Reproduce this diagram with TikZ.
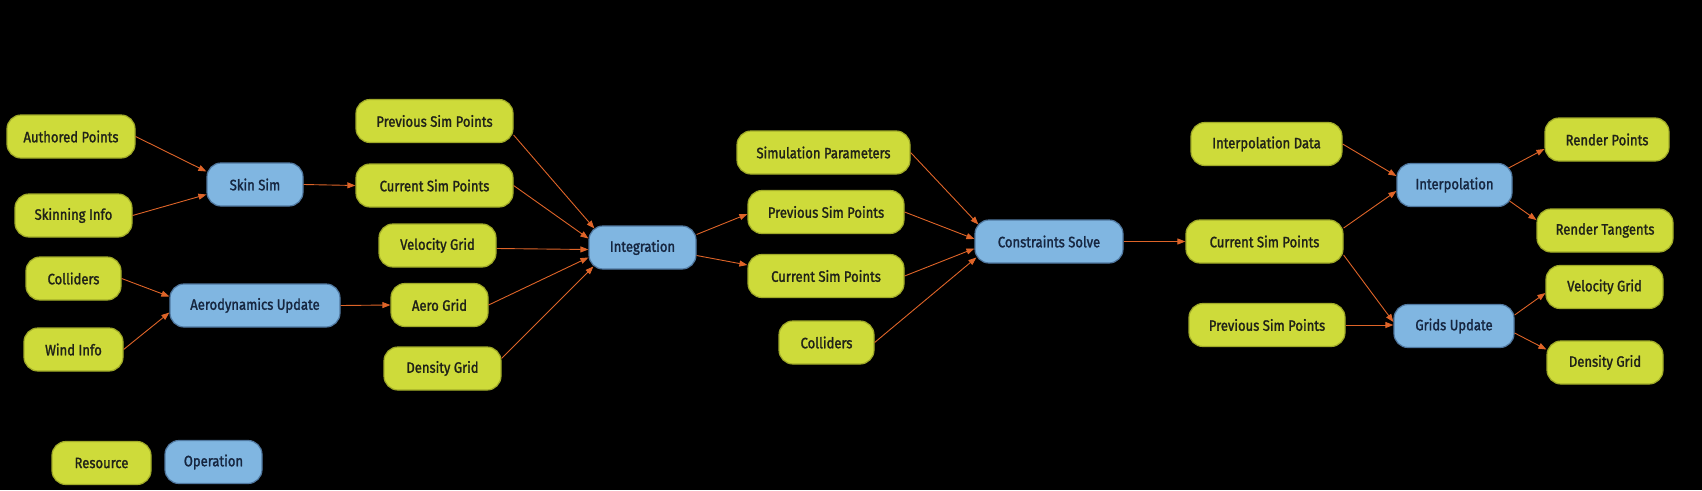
\documentclass[tikz,border=0pt]{standalone}
\usepackage{fontspec}
\setmainfont{Fira Sans}[FakeStretch=0.87,FakeBold=1.6]
\usetikzlibrary{arrows.meta}
\definecolor{resfill}{RGB}{206,219,58}
\definecolor{resdraw}{RGB}{160,170,40}
\definecolor{opfill}{RGB}{128,182,225}
\definecolor{opdraw}{RGB}{80,120,160}
\definecolor{restext}{RGB}{32,34,24}
\definecolor{optext}{RGB}{22,38,64}
\definecolor{arrcol}{RGB}{222,100,40}
\tikzset{
  box/.style={rounded corners=14pt, minimum height=43pt, inner sep=2pt, line width=1.2pt,
    font=\fontsize{15}{17}\selectfont},
  res/.style={box, fill=resfill, draw=resdraw, text=restext},
  op/.style={box, fill=opfill, draw=opdraw, text=optext},
  arr/.style={draw=arrcol, line width=0.9pt, -{Triangle[length=8pt,width=6pt]}, arrcol}
}
\begin{document}
\begin{tikzpicture}[x=1pt,y=-1pt]
\fill[black] (0,0) rectangle (1702,490);
\useasboundingbox (0,0) rectangle (1702,490);
% column 0
\node[res, minimum width=128pt] (ap) at (71,136.5) {Authored Points};
\node[res, minimum width=117pt] (si) at (73.5,215.5) {Skinning Info};
\node[res, minimum width=95pt] (col1) at (73.5,278.5) {Colliders};
\node[res, minimum width=99pt] (wi) at (73.5,349.5) {Wind Info};
% column 1
\node[op, minimum width=96pt] (ss) at (255,184.5) {Skin Sim};
\node[op, minimum width=170pt] (au) at (255,305.5) {Aerodynamics Update};
% column 2
\node[res, minimum width=157pt] (psp2) at (434.5,121) {Previous Sim Points};
\node[res, minimum width=157pt] (csp2) at (434.5,185.5) {Current Sim Points};
\node[res, minimum width=117pt] (vg2) at (437.5,245.5) {Velocity Grid};
\node[res, minimum width=97pt] (ag) at (439.5,305) {Aero Grid};
\node[res, minimum width=117pt] (dg2) at (442.5,368.5) {Density Grid};
% column 3
\node[op, minimum width=107pt] (int) at (642.5,247.5) {Integration};
% column 4
\node[res, minimum width=173pt] (sp) at (823.5,152.5) {Simulation Parameters};
\node[res, minimum width=156pt] (psp4) at (826,212) {Previous Sim Points};
\node[res, minimum width=156pt] (csp4) at (826,276) {Current Sim Points};
\node[res, minimum width=95pt] (col4) at (826.5,342.5) {Colliders};
% column 5
\node[op, minimum width=148pt] (cs) at (1049,241.5) {Constraints Solve};
% column 6
\node[res, minimum width=151pt] (id) at (1266.5,144) {Interpolation Data};
\node[res, minimum width=157pt] (csp5) at (1264.5,241.5) {Current Sim Points};
\node[res, minimum width=156pt] (psp5) at (1267,325) {Previous Sim Points};
% column 7
\node[op, minimum width=115pt] (ip) at (1454.5,185) {Interpolation};
\node[op, minimum width=120pt] (gu) at (1454,326) {Grids Update};
% column 8
\node[res, minimum width=124pt] (rp) at (1607,139.5) {Render Points};
\node[res, minimum width=136pt] (rt) at (1605,230.5) {Render Tangents};
\node[res, minimum width=117pt] (vg7) at (1604.5,287) {Velocity Grid};
\node[res, minimum width=116pt] (dg7) at (1605,362.5) {Density Grid};
% legend
\node[res, minimum width=99pt] (lres) at (101.5,463) {Resource};
\node[op, minimum width=97pt] (lop) at (213.5,462) {Operation};
% edges
\draw[arr] (ap.east) -- ([yshift=13pt]ss.west);
\draw[arr] (si.east) -- ([yshift=-10pt]ss.west);
\draw[arr] (ss.east) -- (csp2.west);
\draw[arr] (col1.east) -- ([yshift=9pt]au.west);
\draw[arr] (wi.east) -- ([yshift=-7pt]au.west);
\draw[arr] (au.east) -- (ag.west);
\draw[arr] ([yshift=-14pt]psp2.east) -- ([xshift=6pt,yshift=19pt]int.west);
\draw[arr] (csp2.east) -- ([yshift=9pt]int.west);
\draw[arr] ([yshift=-3pt]vg2.east) -- ([yshift=-2pt]int.west);
\draw[arr] (ag.east) -- ([yshift=-10pt]int.west);
\draw[arr] ([yshift=10pt]dg2.east) -- ([xshift=5pt,yshift=-19pt]int.west);
\draw[arr] ([yshift=13pt]int.east) -- ([yshift=-2pt]psp4.west);
\draw[arr] ([yshift=-8pt]int.east) -- ([yshift=11pt]csp4.west);
\draw[arr] (sp.east) -- ([xshift=4pt,yshift=17pt]cs.west);
\draw[arr] (psp4.east) -- ([yshift=2.5pt]cs.west);
\draw[arr] (csp4.east) -- ([yshift=-7pt]cs.west);
\draw[arr] (col4.east) -- ([xshift=2pt,yshift=-16pt]cs.west);
\draw[arr] (cs.east) -- (csp5.west);
\draw[arr] (id.east) -- ([yshift=9pt]ip.west);
\draw[arr] ([yshift=13.5pt]csp5.east) -- ([yshift=-6pt]ip.west);
\draw[arr] ([yshift=-13.5pt]csp5.east) -- ([yshift=4pt]gu.west);
\draw[arr] (psp5.east) -- (psp5.east -| gu.west);
\draw[arr] ([xshift=-4pt,yshift=17pt]ip.east) -- ([yshift=-9.5pt]rp.west);
\draw[arr] ([xshift=-3pt,yshift=-16pt]ip.east) -- ([yshift=10.5pt]rt.west);
\draw[arr] ([yshift=11pt]gu.east) -- ([yshift=-6pt]vg7.west);
\draw[arr] ([yshift=-7pt]gu.east) -- ([yshift=13pt]dg7.west);
\end{tikzpicture}
\end{document}
